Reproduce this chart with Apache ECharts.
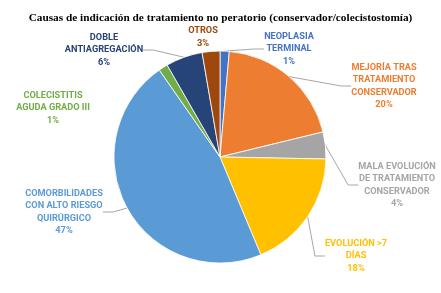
<!DOCTYPE html>
<html><head><meta charset="utf-8">
<script src="https://cdn.jsdelivr.net/npm/echarts@6/dist/echarts.min.js"></script>
<style>html,body{margin:0;padding:0;background:#fff}#c{width:441px;height:293px}</style>
</head><body><div id="c"></div>
<script>
const categories = ['NEOPLASIA\nTERMINAL', 'MEJORÍA TRAS\nTRATAMIENTO\nCONSERVADOR', 'MALA EVOLUCIÓN\nDE TRATAMIENTO\nCONSERVADOR', 'EVOLUCIÓN >7\nDÍAS', 'COMORBILIDADES\nCON ALTO RIESGO\nQUIRÚRGICO', 'COLECISTITIS\nAGUDA GRADO III', 'DOBLE\nANTIAGREGACIÓN', 'OTROS'];
const values = [1.4, 19.8, 4.1, 18.4, 46.6, 1.4, 5.6, 2.7];
const colors = ['#4472C4', '#ED7D31', '#A5A5A5', '#FFC000', '#5B9BD5', '#70AD47', '#264478', '#9E480E'];
const labelColors = ['#4472C4', '#ED7D31', '#A5A5A5', '#FFC000', '#5B9BD5', '#70AD47', '#264478', '#9E480E'];
const labelPos = [[289, 49], [384, 86], [397, 185], [356, 256], [64, 212], [53, 108], [104, 50], [203, 37]];
const showLine = [true, true, true, true, true, false, true, false];

const total = values.reduce((a, b) => a + b, 0);
const chart = echarts.init(document.getElementById('c'));
chart.setOption({
  animation: false,
  title: {
    text: 'Causas de indicación de tratamiento no peratorio (conservador/colecistostomía)',
    left: 'center', top: 8,
    textStyle: { fontFamily: 'Liberation Serif', fontWeight: 'bold', fontSize: 11.3, color: '#000' }
  },
  series: [{
    type: 'pie',
    center: [220, 157],
    radius: 106,
    startAngle: 90,
    clockwise: true,
    avoidLabelOverlap: false,
    itemStyle: { borderColor: '#fff', borderWidth: 0.8 },
    data: categories.map((n, i) => ({
      name: n, value: values[i],
      itemStyle: { color: colors[i] },
      label: { color: labelColors[i] },
      labelLine: { show: showLine[i] }
    })),
    label: {
      show: true,
      position: 'outside',
      fontFamily: 'Roboto', fontWeight: 'bold', fontSize: 9.2, lineHeight: 12.5,
      align: 'center',
      formatter: p => p.name + '\n' + Math.round(p.value / total * 100) + '%'
    },
    labelLine: { show: true, lineStyle: { color: '#A6A6A6', width: 1 }, length: 10, length2: 10 },
    labelLayout: p => ({ x: labelPos[p.dataIndex][0], y: labelPos[p.dataIndex][1], align: 'center', verticalAlign: 'middle' })
  }]
});
</script></body></html>
